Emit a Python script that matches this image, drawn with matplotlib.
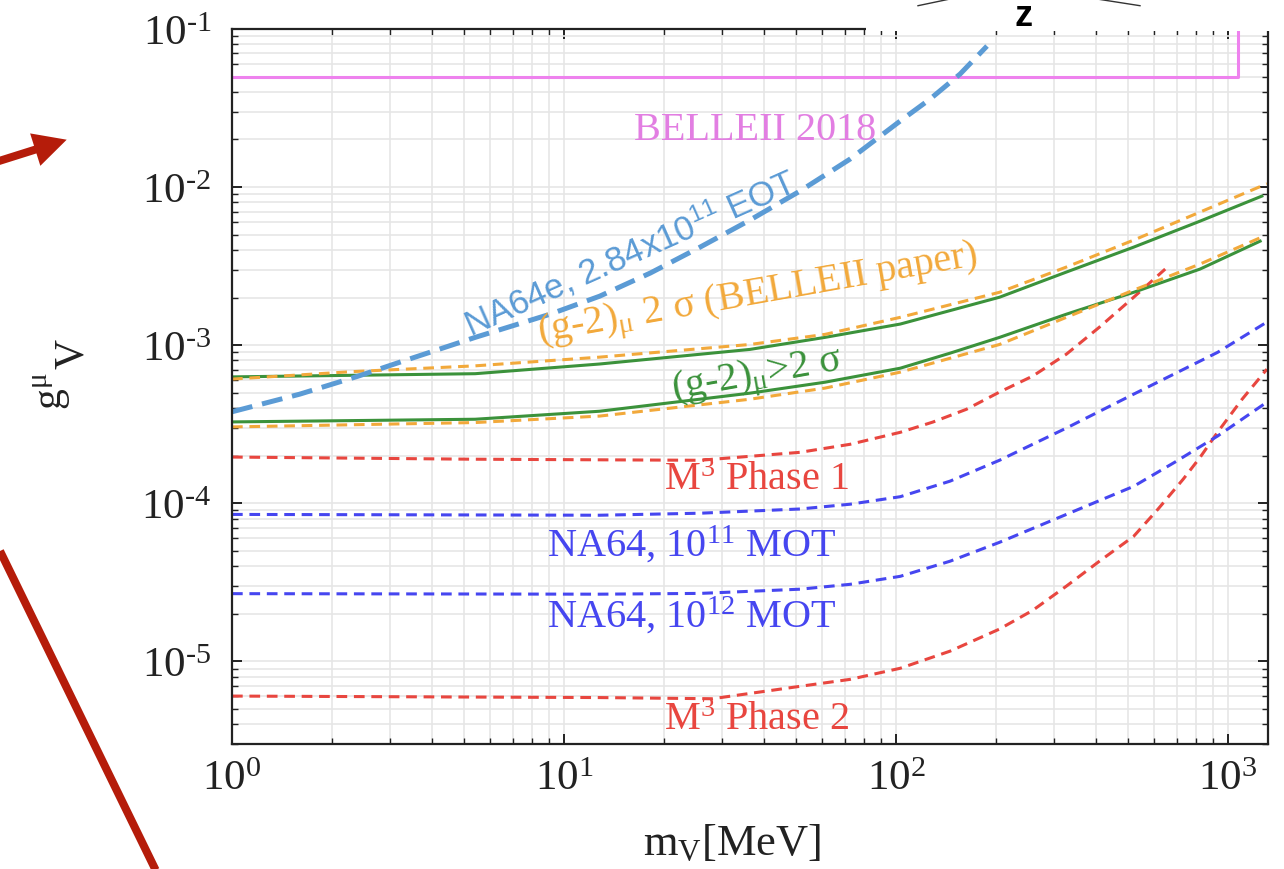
import numpy as np
import matplotlib
matplotlib.use("Agg")
import matplotlib.pyplot as plt
from matplotlib.patches import Rectangle, FancyArrow
from matplotlib.ticker import LogLocator, FuncFormatter, NullFormatter

# ---------------- data (mass in MeV, coupling g_V^mu) ----------------
belle_m = [1.0, 1070.0, 1070.0]
belle_g = [0.05, 0.05, 0.12]

na64e_m = [1.0, 1.6, 2.4, 3.2, 5.4, 9.08, 12.8, 18.2, 25.7, 36.3, 51.4, 72.7, 103.0, 126.6, 156.0, 188.0]
na64e_g = [3.79e-4, 4.9e-4, 6.37e-4, 7.8e-4, 1.12e-3, 1.57e-3, 2.04e-3, 2.86e-3, 4.17e-3,
           6.18e-3, 9.44e-3, 1.503e-2, 2.62e-2, 3.6e-2, 5.19e-2, 7.8e-2]

g2_belle_hi_m = [1.0, 2.3, 5.4, 12.8, 36.3, 61.1, 103.0, 205.0, 326.0, 520.0, 824.0, 1310.0]
g2_belle_hi_g = [6.1e-4, 6.8e-4, 7.4e-4, 8.4e-4, 1.01e-3, 1.17e-3, 1.5e-3, 2.16e-3, 3.12e-3, 4.62e-3, 6.95e-3, 1.05e-2]

g2_belle_lo_m = [1.0, 5.4, 12.8, 36.3, 61.1, 103.0, 205.0, 326.0, 520.0, 824.0, 1265.0]
g2_belle_lo_g = [3.04e-4, 3.24e-4, 3.56e-4, 4.55e-4, 5.35e-4, 6.75e-4, 1.01e-3, 1.5e-3, 2.23e-3, 3.26e-3, 4.83e-3]

g2_hi_m = [1.0, 5.4, 12.8, 36.3, 61.1, 103.0, 205.0, 326.0, 520.0, 824.0, 1265.0]
g2_hi_g = [6.3e-4, 6.6e-4, 7.6e-4, 9.4e-4, 1.12e-3, 1.36e-3, 2.01e-3, 2.9e-3, 4.17e-3, 6.09e-3, 8.77e-3]

g2_lo_m = [1.0, 5.4, 12.8, 36.3, 61.1, 103.0, 145.5, 205.0, 326.0, 520.0, 824.0, 1250.0]
g2_lo_g = [3.27e-4, 3.4e-4, 3.82e-4, 4.97e-4, 5.83e-4, 7.15e-4, 8.9e-4, 1.12e-3, 1.57e-3, 2.16e-3, 3.03e-3, 4.55e-3]

m3_p1_m = [1.0, 5.2, 25.7, 51.4, 72.7, 103.0, 129.0, 163.0, 205.0, 258.0, 326.0, 410.0, 520.0, 647.0]
m3_p1_g = [1.96e-4, 1.9e-4, 1.87e-4, 2.1e-4, 2.36e-4, 2.81e-4, 3.26e-4, 3.93e-4, 5.05e-4,
           6.37e-4, 8.77e-4, 1.3e-3, 2.01e-3, 3.03e-3]

na64_11_m = [1.0, 12.8, 25.7, 51.4, 72.7, 103.0, 145.5, 205.0, 326.0, 520.0, 930.0, 1310.0]
na64_11_g = [8.5e-5, 8.4e-5, 8.65e-5, 9.2e-5, 9.86e-5, 1.1e-4, 1.38e-4, 1.87e-4, 2.99e-4, 4.9e-4, 9.0e-4, 1.4e-3]

na64_12_m = [1.0, 12.8, 25.7, 51.4, 72.7, 103.0, 145.5, 205.0, 326.0, 520.0, 692.0, 930.0, 1310.0]
na64_12_g = [2.68e-5, 2.66e-5, 2.69e-5, 2.86e-5, 3.07e-5, 3.45e-5, 4.3e-5, 5.66e-5, 8.5e-5,
             1.28e-4, 1.82e-4, 2.66e-4, 4.36e-4]

m3_p2_m = [1.0, 12.8, 28.0, 51.4, 72.7, 103.0, 145.5, 205.0, 258.0, 326.0, 410.0, 520.0, 615.0,
           733.0, 824.0, 930.0, 1103.0, 1310.0]
m3_p2_g = [6.03e-6, 5.9e-6, 5.8e-6, 6.95e-6, 7.69e-6, 9.04e-6, 1.16e-5, 1.6e-5, 2.1e-5, 2.99e-5,
           4.3e-5, 6.18e-5, 9.16e-5, 1.42e-4, 1.95e-4, 2.81e-4, 4.55e-4, 7.05e-4]

x_limits = (1.0, 1320.0)
y_limits = (3e-6, 1e-1)

# ---------------- style ----------------
plt.rcParams.update({
    "font.family": ["Liberation Serif", "DejaVu Serif"],
    "mathtext.fontset": "custom",
    "mathtext.rm": "Liberation Serif",
    "mathtext.it": "Liberation Serif:italic",
    "mathtext.bf": "Liberation Serif:bold",
    "mathtext.sf": "Liberation Sans",
    "mathtext.default": "regular",
})

C_BELLE = "#ee82ee"
C_NA64E = "#5b9bd5"
C_ORANGE = "#f2a93b"
C_GREEN = "#3b923b"
C_RED = "#e8463f"
C_BLUE = "#4646f0"
C_ARROW = "#b51c0a"
C_AX = "#222222"


def decade_label(v, pos):
    e = int(round(np.log10(v)))
    if e < 0:
        return r"$\mathregular{10^{\text{-}%d}}$" % (-e)
    return r"$\mathregular{10^{%d}}$" % e


W, H = 1284, 870
fig = plt.figure(figsize=(W / 100, H / 100), dpi=100)
fig.patch.set_facecolor("white")

L, R, T, B = 232, 1268, 30, 745
ax = fig.add_axes([L / W, 1 - B / H, (R - L) / W, (B - T) / H])
ax.set_xscale("log")
ax.set_yscale("log")
ax.set_xlim(*x_limits)
ax.set_ylim(*y_limits)

ax.grid(True, which="both", color="#e6e6e6", lw=1.2)
ax.set_axisbelow(True)

ax.xaxis.set_major_locator(LogLocator(base=10, numticks=20))
ax.xaxis.set_minor_locator(LogLocator(base=10, subs=np.arange(2, 10), numticks=20))
ax.yaxis.set_major_locator(LogLocator(base=10, numticks=20))
ax.yaxis.set_minor_locator(LogLocator(base=10, subs=np.arange(2, 10), numticks=20))
ax.xaxis.set_major_formatter(FuncFormatter(decade_label))
ax.yaxis.set_major_formatter(FuncFormatter(decade_label))
ax.xaxis.set_minor_formatter(NullFormatter())
ax.yaxis.set_minor_formatter(NullFormatter())

ax.tick_params(which="both", direction="in", top=True, right=True, colors=C_AX)
ax.tick_params(which="major", length=7, width=1.4, labelsize=31)
ax.tick_params(which="minor", length=4, width=1.0)
ax.tick_params(axis="y", which="major", pad=15)
ax.tick_params(axis="x", which="major", pad=11)
for sp in ax.spines.values():
    sp.set_linewidth(1.6)
    sp.set_color(C_AX)

# ---------------- curves ----------------
dash = (3.5, 2.2)
ax.plot(belle_m, belle_g, color=C_BELLE, lw=2.2)
ax.plot(m3_p2_m, m3_p2_g, color=C_RED, lw=2.2, dashes=dash)
ax.plot(m3_p1_m, m3_p1_g, color=C_RED, lw=2.2, dashes=dash)
ax.plot(na64_12_m, na64_12_g, color=C_BLUE, lw=2.2, dashes=dash)
ax.plot(na64_11_m, na64_11_g, color=C_BLUE, lw=2.2, dashes=dash)
ax.plot(g2_hi_m, g2_hi_g, color=C_GREEN, lw=2.2)
ax.plot(g2_lo_m, g2_lo_g, color=C_GREEN, lw=2.2)
ax.plot(g2_belle_hi_m, g2_belle_hi_g, color=C_ORANGE, lw=2.2, dashes=dash)
ax.plot(g2_belle_lo_m, g2_belle_lo_g, color=C_ORANGE, lw=2.2, dashes=dash)
ax.plot(na64e_m, na64e_g, color=C_NA64E, lw=3.6, dashes=(4.2, 2.0))

# ---------------- curve labels ----------------
lab = dict(ha="center", va="center", rotation_mode="anchor", fontsize=29)
ax.text(37.6, 0.0233, "BELLEII 2018", color="#e27ee2", **lab)
ax.text(15.8, 3.94e-3, r"NA64e, 2.84x10$^{11}$ EOT", color=C_NA64E, rotation=24,
        family=["Liberation Sans", "DejaVu Sans"],
        **{**lab, "fontsize": 25})
ax.text(38.4, 2.07e-3, r"(g-2)$_{\mu}$ 2 σ (BELLEII paper)", color=C_ORANGE, rotation=10, **lab)
ax.text(38.1, 6.46e-4, r"(g-2)$_{\mu}$>2 σ", color=C_GREEN, rotation=10, **lab)
ax.text(37.9, 1.42e-4, r"M$^{3}$ Phase 1", color=C_RED, **lab)
ax.text(24.2, 5.5e-5, r"NA64, 10$^{11}$ MOT", color=C_BLUE, **lab)
ax.text(24.2, 1.95e-5, r"NA64, 10$^{12}$ MOT", color=C_BLUE, **lab)
ax.text(38.0, 4.3e-6, r"M$^{3}$ Phase 2", color=C_RED, **lab)

# ---------------- overlay in pixel units ----------------
ov = fig.add_axes([0, 0, 1, 1], zorder=10)
ov.set_xlim(0, W)
ov.set_ylim(H, 0)
ov.axis("off")
ov.patch.set_alpha(0)

# axis titles
ov.text(61, 410, r"g$^{\mu}$", rotation=90, rotation_mode="anchor",
        ha="left", va="baseline", fontsize=30, color=C_AX)
ov.text(83, 369, "V", rotation=90, rotation_mode="anchor",
        ha="left", va="baseline", fontsize=30, color=C_AX)
ov.text(643, 855, r"m$_{V}$[MeV]", ha="left", va="baseline", fontsize=32, color=C_AX)

# white banner over the top-right corner
ov.add_patch(Rectangle((866, -2), W - 866 + 4, 34, facecolor="white", edgecolor="none"))
ov.text(1023, 17, "z", ha="center", va="center", fontsize=26, fontweight="bold",
        family=["Liberation Sans", "DejaVu Sans"], color="black")
ov.plot([918, 950], [6.7, 0], color="#333333", lw=1.0)
ov.plot([1097, 1140], [0, 6.7], color="#333333", lw=1.0)

# red pointer arrow and slanted red line
ov.add_patch(FancyArrow(-6, 163.6, 72.7, -22.9, width=8, head_width=34, head_length=33,
                        length_includes_head=True, color=C_ARROW, lw=0))
ov.plot([0, 160], [552, 880], color=C_ARROW, lw=5.8, solid_capstyle="butt")

fig.savefig("out.png", dpi=100)
